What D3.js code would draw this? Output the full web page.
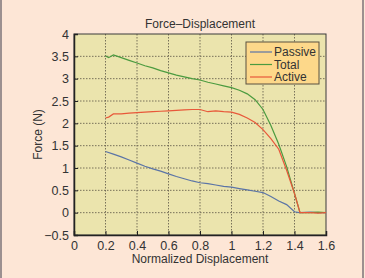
<!DOCTYPE html>
<html>

<head>
    <meta charset="utf-8">
    <script src="https://d3js.org/d3.v7.min.js"></script>
    <style>
        body { margin: 0; background: #fde6d6; }
        svg { display: block; font-family: "Liberation Sans", Arial, sans-serif; }
    </style>
</head>

<body>
</body>

<script>
    // values
    let xTicks = [0, 0.2, 0.4, 0.6, 0.8, 1, 1.2, 1.4, 1.6];
    let yTicks = [-0.5, 0, 0.5, 1, 1.5, 2, 2.5, 3, 3.5, 4];

    let passiveX = [0.2, 0.25, 0.3, 0.35, 0.4, 0.45, 0.5, 0.55, 0.6, 0.65, 0.7, 0.75, 0.8, 0.85, 0.9, 0.95, 1.0, 1.05, 1.1, 1.15, 1.2, 1.25, 1.3, 1.35, 1.4, 1.43, 1.5, 1.55, 1.6];
    let passiveY = [1.37, 1.31, 1.25, 1.18, 1.11, 1.04, 0.98, 0.93, 0.87, 0.81, 0.76, 0.71, 0.67, 0.65, 0.62, 0.59, 0.57, 0.54, 0.51, 0.48, 0.45, 0.36, 0.26, 0.18, 0.02, 0.0, 0.01, 0.0, 0.0];

    let totalX = [0.2, 0.22, 0.25, 0.3, 0.35, 0.4, 0.45, 0.5, 0.55, 0.6, 0.65, 0.7, 0.75, 0.8, 0.85, 0.9, 0.95, 1.0, 1.05, 1.1, 1.15, 1.2, 1.25, 1.3, 1.35, 1.4, 1.435, 1.5, 1.55, 1.6];
    let totalY = [3.51, 3.47, 3.53, 3.47, 3.41, 3.35, 3.29, 3.24, 3.18, 3.13, 3.08, 3.04, 3.00, 2.97, 2.92, 2.88, 2.84, 2.80, 2.74, 2.66, 2.53, 2.31, 1.95, 1.53, 1.03, 0.43, 0.0, 0.0, 0.01, 0.0];

    let activeX = [0.2, 0.22, 0.25, 0.3, 0.35, 0.4, 0.45, 0.5, 0.55, 0.6, 0.65, 0.7, 0.75, 0.8, 0.85, 0.9, 0.95, 1.0, 1.05, 1.1, 1.15, 1.2, 1.25, 1.3, 1.35, 1.4, 1.435, 1.5, 1.55, 1.6];
    let activeY = [2.12, 2.14, 2.21, 2.21, 2.23, 2.24, 2.25, 2.26, 2.27, 2.28, 2.29, 2.30, 2.31, 2.31, 2.26, 2.28, 2.26, 2.25, 2.20, 2.12, 2.02, 1.86, 1.66, 1.42, 0.95, 0.43, 0.0, 0.0, -0.01, 0.0];

    let seriesNames = ["Passive", "Total", "Active"];
    let seriesColors = ["#5b74a6", "#4b9b3f", "#e8583a"];

    let width = 365, height = 278;
    let margin = {left: 74, right: 39, top: 34, bottom: 43};

    let svg = d3.select("body")
        .append("svg")
            .attr("width", width)
            .attr("height", height);

    // outer frame
    svg.append("rect")
        .attr("x", 0).attr("y", 0)
        .attr("width", width).attr("height", height)
        .attr("fill", "#fde6d6");
    svg.append("line")
        .attr("x1", 1).attr("x2", 1).attr("y1", 0).attr("y2", height)
        .attr("stroke", "#9c9090").attr("stroke-width", 2);
    svg.append("line")
        .attr("x1", 363).attr("x2", 363).attr("y1", 0).attr("y2", height)
        .attr("stroke", "#9c9090").attr("stroke-width", 2);

    let x = d3.scaleLinear()
        .domain([0, 1.6])
        .range([margin.left, width - margin.right]);

    let y = d3.scaleLinear()
        .domain([-0.5, 4])
        .range([height - margin.bottom, margin.top]);

    // plot background
    svg.append("rect")
        .attr("x", x(0)).attr("y", y(4))
        .attr("width", x(1.6) - x(0)).attr("height", y(-0.5) - y(4))
        .attr("fill", "#ebe4ad");

    // grid
    svg.append("g")
        .selectAll("line")
        .data(xTicks.slice(1, -1))
        .join("line")
            .attr("x1", d => x(d)).attr("x2", d => x(d))
            .attr("y1", y(4)).attr("y2", y(-0.5))
            .attr("stroke", "#6b6450").attr("stroke-width", 0.9)
            .attr("stroke-dasharray", "1.5,1.5");

    svg.append("g")
        .selectAll("line")
        .data(yTicks.slice(1, -1))
        .join("line")
            .attr("x1", x(0)).attr("x2", x(1.6))
            .attr("y1", d => y(d)).attr("y2", d => y(d))
            .attr("stroke", "#6b6450").attr("stroke-width", 0.9)
            .attr("stroke-dasharray", "1.5,1.5");

    // box
    svg.append("rect")
        .attr("x", x(0)).attr("y", y(4))
        .attr("width", x(1.6) - x(0)).attr("height", y(-0.5) - y(4))
        .attr("fill", "none")
        .attr("stroke", "#3a3a3a").attr("stroke-width", 1);

    // axes
    let xAxis = svg.append("g")
        .attr("transform", `translate(0,${y(-0.5)})`)
        .call(d3.axisBottom(x).tickValues(xTicks).tickSize(-4).tickPadding(6)
            .tickFormat(d3.format("")));
    let yAxis = svg.append("g")
        .attr("transform", `translate(${x(0)},0)`)
        .call(d3.axisLeft(y).tickValues(yTicks).tickSize(-4).tickPadding(5)
            .tickFormat(d => d < 0 ? "\u2212" + Math.abs(d) : d));

    [xAxis, yAxis].forEach(a => {
        a.select(".domain").attr("stroke", "#222").attr("stroke-width", 1.5);
        a.selectAll(".tick line").attr("stroke", "#222");
        a.selectAll("text")
            .attr("font-size", 12.5)
            .attr("fill", "#333")
            .attr("font-family", "Liberation Sans, Arial, sans-serif");
    });

    // lines
    let line = d3.line()
        .x(d => x(d[0]))
        .y(d => y(d[1]));

    let series = [
        passiveX.map((v, i) => [v, passiveY[i]]),
        totalX.map((v, i) => [v, totalY[i]]),
        activeX.map((v, i) => [v, activeY[i]])
    ];

    svg.append("g")
        .selectAll("path")
        .data(series)
        .join("path")
            .attr("fill", "none")
            .attr("stroke", (d, i) => seriesColors[i])
            .attr("stroke-width", 1.2)
            .attr("d", line);

    // titles
    svg.append("text")
        .attr("x", (x(0) + x(1.6)) / 2)
        .attr("y", 28)
        .attr("text-anchor", "middle")
        .attr("font-size", 12)
        .attr("fill", "#333")
        .text("Force\u2013Displacement");

    svg.append("text")
        .attr("x", (x(0) + x(1.6)) / 2)
        .attr("y", 263)
        .attr("text-anchor", "middle")
        .attr("font-size", 12)
        .attr("fill", "#333")
        .text("Normalized Displacement");

    svg.append("text")
        .attr("transform", `translate(42,${(y(4) + y(-0.5)) / 2}) rotate(-90)`)
        .attr("text-anchor", "middle")
        .attr("font-size", 12)
        .attr("fill", "#333")
        .text("Force (N)");

    // legend
    let legend = svg.append("g")
        .attr("transform", "translate(246,42)");
    legend.append("rect")
        .attr("width", 73).attr("height", 42)
        .attr("fill", "#fdd88a")
        .attr("stroke", "#5a5040").attr("stroke-width", 1);
    let items = legend.selectAll("g")
        .data(seriesNames)
        .join("g")
            .attr("transform", (d, i) => `translate(0,${10 + i * 12.5})`);
    items.append("line")
        .attr("x1", 4).attr("x2", 26)
        .attr("stroke", (d, i) => seriesColors[i])
        .attr("stroke-width", 1.2);
    items.append("text")
        .attr("x", 28).attr("dy", "0.35em")
        .attr("font-size", 12)
        .attr("fill", "#333")
        .text(d => d);

</script>

</html>
